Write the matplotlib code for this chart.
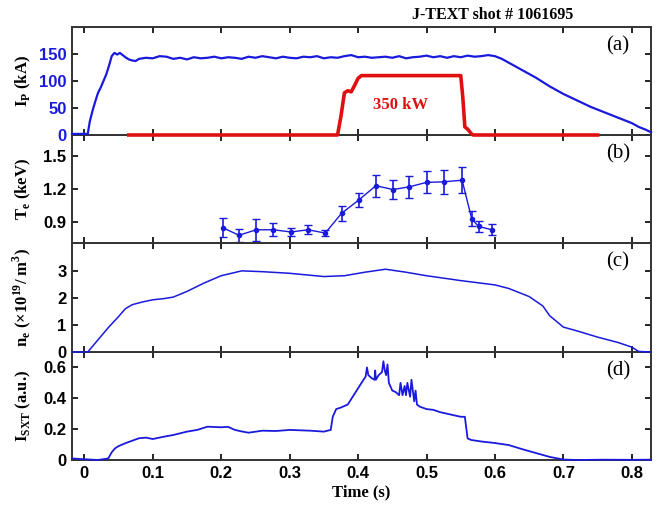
import numpy as np
import matplotlib
matplotlib.use('Agg')
import matplotlib.pyplot as plt

# (a) plasma current, kA
ip_t = [-0.018, 0.0, 0.005, 0.008, 0.012, 0.016, 0.02, 0.024, 0.028, 0.032, 0.036, 0.04, 0.044,
        0.048, 0.052, 0.056, 0.06, 0.065, 0.07, 0.075, 0.08, 0.09, 0.1, 0.11, 0.12, 0.13, 0.14,
        0.15, 0.16, 0.17, 0.18, 0.19, 0.2, 0.21, 0.22, 0.23, 0.24, 0.25, 0.26, 0.27, 0.28, 0.29,
        0.3, 0.31, 0.32, 0.33, 0.34, 0.35, 0.36, 0.37, 0.38, 0.39, 0.4, 0.41, 0.42, 0.43, 0.44,
        0.45, 0.46, 0.47, 0.48, 0.49, 0.5, 0.51, 0.52, 0.53, 0.54, 0.55, 0.56, 0.57, 0.58,
        0.59, 0.6, 0.61, 0.62, 0.64, 0.66, 0.68, 0.7, 0.72, 0.74, 0.76, 0.78, 0.8, 0.81, 0.82,
        0.828]
ip_v = [2, 2, 2, 25, 45, 62, 78, 88, 100, 112, 128, 146, 152,
        149, 152, 148, 144, 140, 138, 137, 141, 143, 142, 146, 145, 141, 143, 140,
        144, 142, 143, 145, 142, 144, 143, 141, 145, 143, 146, 144, 142, 145, 143,
        142, 145, 144, 146, 142, 144, 143, 146, 148, 144, 145, 143, 144, 145, 143,
        146, 142, 144, 145, 147, 144, 146, 143, 146, 144, 147, 145, 146,
        148, 146, 141, 134, 120, 106, 90, 76, 64, 52, 42, 32, 22, 15, 10, 5]

# (a) NBI power trace (same axis units)
nbi_t = [0.065, 0.37, 0.375, 0.38, 0.385, 0.39, 0.395, 0.4, 0.405, 0.45, 0.5, 0.55, 0.553,
         0.556, 0.559, 0.562, 0.565, 0.568, 0.75]
nbi_v = [0, 0, 35, 78, 82, 80, 92, 105, 110, 110, 110, 110, 70, 15, 12, 8, 3, 0, 0]

# (b) electron temperature, keV
te_t = [0.202, 0.226, 0.251, 0.276, 0.302, 0.327, 0.352, 0.376, 0.401, 0.426, 0.451, 0.475,
        0.50, 0.525, 0.552, 0.566, 0.576, 0.596]
te_v = [0.85, 0.78, 0.83, 0.83, 0.81, 0.83, 0.80, 0.98, 1.10, 1.23, 1.195, 1.22, 1.26, 1.265,
        1.28, 0.93, 0.86, 0.83]
te_err = [0.09, 0.06, 0.10, 0.06, 0.04, 0.04, 0.03, 0.07, 0.06, 0.10, 0.09, 0.10, 0.10, 0.11,
          0.12, 0.07, 0.05, 0.05]

# (c) electron density, 1e19 m^-3
ne_t = [-0.018, 0.005, 0.02, 0.035, 0.05, 0.06, 0.07, 0.085, 0.1, 0.115, 0.13, 0.15, 0.175,
        0.2, 0.23, 0.26, 0.3, 0.35, 0.38, 0.41, 0.44, 0.47, 0.5, 0.55, 0.6, 0.62, 0.65, 0.67,
        0.68, 0.7, 0.72, 0.75, 0.78, 0.8, 0.81, 0.828]
ne_v = [0, 0, 0.45, 0.9, 1.31, 1.6, 1.75, 1.85, 1.93, 1.97, 2.03, 2.24, 2.55,
        2.82, 3.0, 2.97, 2.91, 2.79, 2.82, 2.95, 3.06, 2.95, 2.82, 2.64, 2.48, 2.35, 2.05, 1.7,
        1.34, 0.92, 0.78, 0.55, 0.35, 0.18, 0.02, 0.0]

# (d) soft x-ray intensity, a.u.
sxt_t = [-0.018, 0.0, 0.02, 0.035, 0.04, 0.045, 0.05, 0.06, 0.07, 0.08, 0.09, 0.1, 0.115, 0.13,
         0.15, 0.165, 0.18, 0.2, 0.21, 0.22, 0.23, 0.24, 0.26, 0.28, 0.3, 0.33, 0.35, 0.36,
         0.363, 0.368, 0.375, 0.385, 0.395, 0.405, 0.411, 0.413, 0.415, 0.42, 0.424, 0.425,
         0.426, 0.43, 0.435, 0.437, 0.439, 0.441, 0.443, 0.445, 0.45, 0.455, 0.46, 0.462, 0.465,
         0.468, 0.47, 0.472, 0.476, 0.478, 0.482, 0.484, 0.486, 0.49, 0.5, 0.51, 0.52, 0.53,
         0.54, 0.55, 0.556, 0.56, 0.565, 0.58, 0.6, 0.62, 0.64, 0.66, 0.68, 0.7, 0.72, 0.76,
         0.8, 0.828]
sxt_v = [0.01, 0.005, 0.0, 0.01, 0.05, 0.076, 0.09, 0.109, 0.125, 0.141, 0.145, 0.136, 0.15,
         0.162, 0.184, 0.195, 0.216, 0.212, 0.215, 0.195, 0.185, 0.177, 0.19, 0.188, 0.195,
         0.19, 0.184, 0.195, 0.28, 0.33, 0.34, 0.36, 0.43, 0.5, 0.54, 0.6, 0.55, 0.53, 0.52,
         0.58, 0.52, 0.55, 0.57, 0.64, 0.58, 0.55, 0.62, 0.5, 0.45, 0.44, 0.42, 0.5, 0.42,
         0.48, 0.42, 0.5, 0.41, 0.52, 0.38, 0.45, 0.36, 0.346, 0.33, 0.325, 0.31, 0.3, 0.29,
         0.28, 0.28, 0.14, 0.13, 0.12, 0.11, 0.097, 0.07, 0.045, 0.02, 0.003, 0.0, 0.002,
         0.001, 0.002]

blue = '#1a1adc'
red = '#e01010'
serif = 'Liberation Serif'
sans = 'Liberation Sans'

fig = plt.figure(figsize=(6.59, 5.07), dpi=100)
left, right = 72 / 659, 651 / 659
edges = [27, 135, 243, 352, 460]
axes = []
for i in range(4):
    top = 1 - edges[i] / 507
    bot = 1 - edges[i + 1] / 507
    ax = fig.add_axes([left, bot, right - left, top - bot])
    # upper panels on top so traces sitting on zero are not hidden by the panel below
    ax.set_zorder(4 - i)
    axes.append(ax)

for ax in axes:
    ax.set_xlim(-0.018, 0.828)
    ax.tick_params(direction='in', top=True, right=True, length=4, width=1.2,
                   labelsize=12, pad=4)
    for s in ax.spines.values():
        s.set_linewidth(1.4)
        s.set_color('#333333')

ax1, ax2, ax3, ax4 = axes

ax1.plot(ip_t, ip_v, color=blue, lw=1.6, clip_on=False, zorder=4)
ax1.plot(nbi_t, nbi_v, color=red, lw=2.6, clip_on=False, zorder=5)
ax1.set_ylim(0, 200)
ax1.set_yticks([0, 50, 100, 150])
ax1.tick_params(axis='y', labelcolor=blue)
ax1.text(0.4626, 55, '350 kW', color=red, fontsize=12, fontweight='bold', family=serif,
         ha='center', va='center')
ax1.set_ylabel('I$_\\mathregular{P}$ (kA)', fontsize=12, fontweight='bold', family=serif)

ax2.errorbar(te_t, te_v, yerr=te_err, color=blue, lw=1.0, marker='o', ms=3, capsize=3,
             elinewidth=1.2)
ax2.set_ylim(0.71, 1.69)
ax2.set_yticks([0.9, 1.2, 1.5])
ax2.set_ylabel('T$_\\mathregular{e}$ (keV)', fontsize=12, fontweight='bold', family=serif)

ax3.plot(ne_t, ne_v, color=blue, lw=1.1, clip_on=False, zorder=4)
ax3.set_ylim(0, 4.03)
ax3.set_yticks([0, 1, 2, 3])
ax3.set_ylabel('n$_\\mathregular{e}$ ($\\mathregular{\\times 10^{19}}$/ m$^\\mathregular{3}$)',
               fontsize=12, fontweight='bold', family=serif)

ax4.plot(sxt_t, sxt_v, color=blue, lw=1.3, clip_on=False, zorder=4)
ax4.set_ylim(0, 0.7)
ax4.set_yticks([0, 0.2, 0.4, 0.6])
ax4.set_yticklabels(['0', '0.2', '0.4', '0.6'])
ax4.set_ylabel('I$_\\mathregular{SXT}$ (a.u.)', fontsize=12, fontweight='bold', family=serif)
ax4.set_xticks([0, 0.1, 0.2, 0.3, 0.4, 0.5, 0.6, 0.7, 0.8])
ax4.set_xticklabels(['0', '0.1', '0.2', '0.3', '0.4', '0.5', '0.6', '0.7', '0.8'])
ax4.set_xlabel('Time (s)', fontsize=12, fontweight='bold', family=serif, labelpad=3)

for ax in axes[:3]:
    ax.tick_params(labelbottom=False)

for ax in axes:
    for lab in ax.get_yticklabels() + ax.get_xticklabels():
        lab.set_fontfamily(sans)
        lab.set_fontweight('bold')
    ax.yaxis.set_label_coords(-0.068, 0.5)

for ax, tag in zip(axes, ['(a)', '(b)', '(c)', '(d)']):
    ax.text(0.943, 0.83, tag, transform=ax.transAxes, fontsize=15, family=serif,
            ha='center', va='center')

fig.text(493 / 659, 1 - 15 / 507, 'J-TEXT shot # 1061695', fontsize=11.5, fontweight='bold',
         family=serif, ha='center', va='center')

fig.savefig('out.png', dpi=100)
